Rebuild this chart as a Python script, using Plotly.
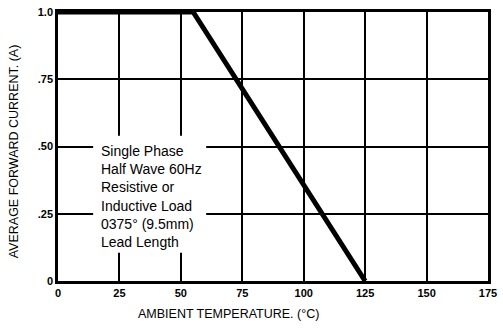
import plotly.graph_objects as go

# Data
temp = [0, 55, 125]
current = [1.0, 1.0, 0.0]
x_ticks = [0, 25, 50, 75, 100, 125, 150, 175]
y_ticks = [0, 0.25, 0.5, 0.75, 1.0]
y_ticktext = ["0", ".25", ".50", ".75", "1.0"]
note_lines = ["Single Phase", "Half Wave 60Hz", "Resistive or", "Inductive Load",
              "0375\u00b0 (9.5mm)", "Lead Length"]

FONT = "Liberation Sans, Arial, sans-serif"
L, R, T, B, W, H = 58, 11, 6, 47, 503, 328
PW, PH = W - L - R, H - T - B

fig = go.Figure()
fig.add_trace(go.Scatter(x=temp, y=current, mode="lines",
                         line=dict(color="black", width=5), hoverinfo="skip"))

# white gap behind the note (breaks the gridlines)
fig.add_shape(type="rect", x0=14.3, x1=60.3, y0=0.105, y1=0.54,
              xref="x", yref="y", fillcolor="white", line=dict(width=0),
              layer="between")

fig.add_annotation(x=16.5, y=0.315, xref="x", yref="y", xanchor="left",
                   yanchor="middle", align="left", showarrow=False,
                   text="<br>".join(note_lines),
                   font=dict(family=FONT, size=14, color="black"))

fig.add_annotation(xref="paper", yref="paper",
                   x=(230 - L) / PW, y=-(315 - (H - B)) / PH,
                   xanchor="center", yanchor="middle", showarrow=False,
                   text="AMBIENT TEMPERATURE. (\u00b0C)",
                   font=dict(family=FONT, size=12.5, color="black"))
fig.add_annotation(xref="paper", yref="paper",
                   x=-(L - 13) / PW, y=((H - B) - 148) / PH,
                   xanchor="center", yanchor="middle", showarrow=False,
                   textangle=-90, text="AVERAGE FORWARD CURRENT. (A)",
                   font=dict(family=FONT, size=12.5, color="black"))

fig.update_layout(
    width=W, height=H,
    margin=dict(l=L, r=R, t=T, b=B),
    paper_bgcolor="white", plot_bgcolor="white",
    showlegend=False,
    xaxis=dict(range=[0, 175], tickvals=x_ticks, ticks="", showgrid=True,
               gridcolor="black", gridwidth=2, zeroline=False,
               showline=True, linecolor="black", linewidth=2.5, mirror=True,
               tickfont=dict(family=FONT, size=11, color="black", weight="bold")),
    yaxis=dict(range=[0, 1], tickvals=y_ticks, ticktext=y_ticktext, ticks="",
               showgrid=True, gridcolor="black", gridwidth=2, zeroline=False,
               showline=True, linecolor="black", linewidth=2.5, mirror=True,
               tickfont=dict(family=FONT, size=11, color="black", weight="bold")),
)

fig.write_html("out.html")
